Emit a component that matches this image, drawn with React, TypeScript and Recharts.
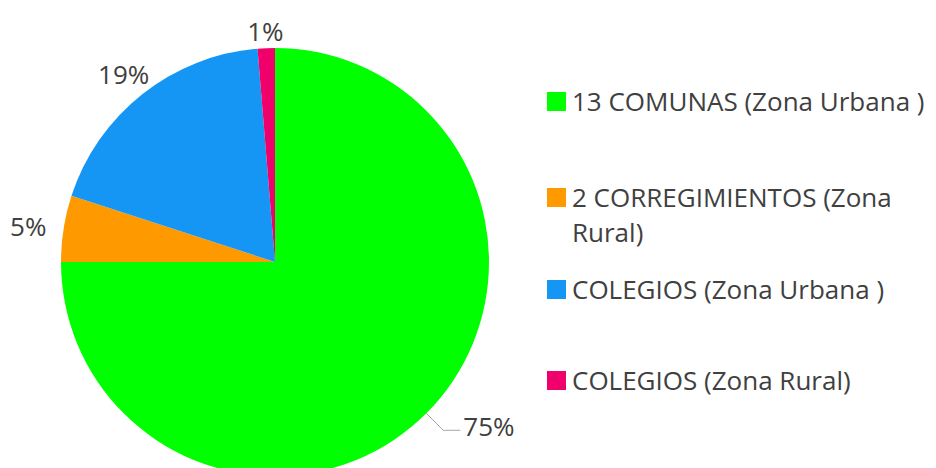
import { PieChart, Pie, Cell, Legend } from "recharts"

const categories = [
  "13 COMUNAS (Zona Urbana )",
  "2 CORREGIMIENTOS (Zona Rural)",
  "COLEGIOS (Zona Urbana )",
  "COLEGIOS (Zona Rural)",
]
const shares = [75, 5, 18.7, 1.3]
const percentLabels = ["75%", "5%", "19%", "1%"]
const colors = ["#00FF00", "#FF9900", "#1596F5", "#F0006A"]

const data = categories.map((name, i) => ({ name, value: shares[i], label: percentLabels[i] }))

const FONT = "'Open Sans', sans-serif"
const TEXT = "#404040"
const RAD = Math.PI / 180

const renderLabel = (props: any) => {
  const { cx, cy, midAngle, outerRadius, index } = props
  const cos = Math.cos(-midAngle * RAD)
  const sin = Math.sin(-midAngle * RAD)
  const text = data[index].label
  if (index === 0) {
    // big slice: leader line out to the right
    const sx = cx + outerRadius * cos
    const sy = cy + outerRadius * sin
    const ex = cx + (outerRadius + 24) * cos
    const ey = cy + (outerRadius + 24) * sin
    const hx = ex + 17
    return (
      <g>
        <polyline points={`${sx},${sy} ${ex},${ey} ${hx},${ey}`} fill="none" stroke="#a6a6a6" strokeWidth={1} />
        <text x={hx + 3} y={ey - 4} fill={TEXT} fontFamily={FONT} fontSize={26} dominantBaseline="central">
          {text}
        </text>
      </g>
    )
  }
  const r = outerRadius + 20 + 16 * Math.abs(cos)
  return (
    <text
      x={cx + r * cos}
      y={cy + r * sin + 3}
      fill={TEXT}
      fontFamily={FONT}
      fontSize={26}
      textAnchor="middle"
      dominantBaseline="central"
    >
      {text}
    </text>
  )
}

const spacing = [61, 22, 56, 0]

// legend drawn in data order (the built-in one sorts by name)
const renderLegend = () => (
  <div style={{ fontFamily: FONT, fontSize: 26, color: TEXT, lineHeight: "35px", width: 400 }}>
    {data.map((d, i) => (
      <div key={d.name} style={{ display: "flex", alignItems: "flex-start", marginBottom: spacing[i] }}>
        <span
          style={{
            display: "inline-block",
            width: 19,
            height: 19,
            background: colors[i],
            marginTop: 8,
            marginRight: 6,
            flex: "none",
          }}
        />
        <span style={{ width: 375 }}>{d.name}</span>
      </div>
    ))}
  </div>
)

export default function App() {
  return (
    <div style={{ position: "absolute", left: 0, top: 0, width: 936, height: 468, background: "#fff" }}>
      <PieChart width={936} height={468} margin={{ top: 0, right: 0, bottom: 0, left: 0 }}>
        <Pie
          data={data}
          dataKey="value"
          nameKey="name"
          cx={275}
          cy={262}
          outerRadius={214}
          startAngle={90}
          endAngle={-270}
          stroke="none"
          label={renderLabel}
          labelLine={false}
          isAnimationActive={false}
        >
          {data.map((d, i) => (
            <Cell key={d.name} fill={colors[i]} />
          ))}
        </Pie>
        <Legend
          content={renderLegend}
          layout="vertical"
          wrapperStyle={{ left: 547, top: 84, width: 400 }}
        />
      </PieChart>
    </div>
  )
}
